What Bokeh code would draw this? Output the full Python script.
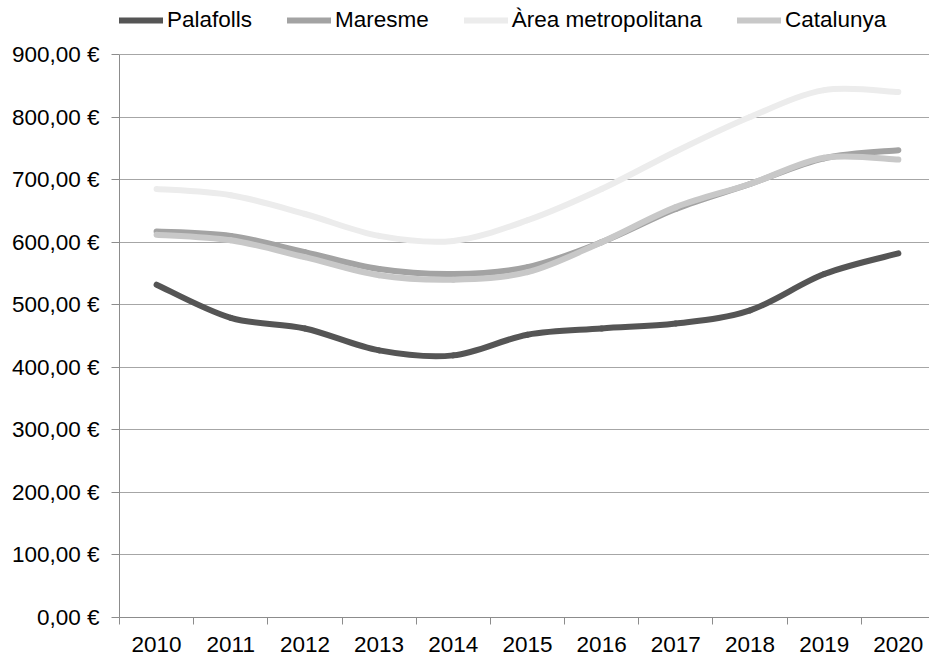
from bokeh.plotting import figure
from bokeh.models import FixedTicker, Legend, LegendItem, Range1d, ColumnDataSource
from bokeh.embed import file_html
from bokeh.resources import INLINE

years = [2010, 2011, 2012, 2013, 2014, 2015, 2016, 2017, 2018, 2019, 2020]
palafolls = [532, 479, 462, 427, 419, 452, 462, 470, 491, 549, 582]
maresme = [617, 610, 584, 557, 549, 560, 600, 653, 693, 734, 747]
area_metro = [685, 675, 645, 610, 602, 635, 685, 745, 800, 843, 840]
catalunya = [612, 603, 576, 547, 540, 552, 600, 656, 693, 735, 732]

series_names = ["Palafolls", "Maresme", "Àrea metropolitana", "Catalunya"]
series_values = [palafolls, maresme, area_metro, catalunya]
series_colors = ["#555555", "#a3a3a3", "#ececec", "#c8c8c8"]
y_ticks = [0, 100, 200, 300, 400, 500, 600, 700, 800, 900]

FONT = "Liberation Sans"


def bezier_source(xs, ys):
    n = len(xs)
    d = dict(x0=[], y0=[], x1=[], y1=[], cx0=[], cy0=[], cx1=[], cy1=[])
    for i in range(n - 1):
        im = max(i - 1, 0)
        ip2 = min(i + 2, n - 1)
        d["x0"].append(xs[i]); d["y0"].append(ys[i])
        d["x1"].append(xs[i + 1]); d["y1"].append(ys[i + 1])
        d["cx0"].append(xs[i] + (xs[i + 1] - xs[im]) / 6)
        d["cy0"].append(ys[i] + (ys[i + 1] - ys[im]) / 6)
        d["cx1"].append(xs[i + 1] - (xs[ip2] - xs[i]) / 6)
        d["cy1"].append(ys[i + 1] - (ys[ip2] - ys[i]) / 6)
    return ColumnDataSource(d)


# frame: x from 119 to 929 px, y from 0 (top) to 617 px; 900 sits at 54 px
p = figure(width=929, height=662, output_backend="svg", toolbar_location=None,
           x_range=Range1d(2009.5, 2020.42), y_range=Range1d(0, 986.3),
           min_border_left=119, min_border_right=0, min_border_top=0,
           min_border_bottom=45)
p.outline_line_color = None
p.background_fill_color = "white"
p.border_fill_color = "white"

items = []
for name, vals, col in zip(series_names, series_values, series_colors):
    r = p.bezier(x0="x0", y0="y0", x1="x1", y1="y1", cx0="cx0", cy0="cy0",
                 cx1="cx1", cy1="cy1", source=bezier_source(years, vals),
                 line_color=col, line_width=6, line_cap="round")
    items.append(LegendItem(label=name, renderers=[r]))

legend = Legend(items=items, orientation="horizontal", location=(0, 584),
                glyph_width=44, glyph_height=20, label_standoff=4, spacing=35,
                padding=0, margin=0, border_line_color=None,
                background_fill_alpha=0, label_text_font=FONT,
                label_text_font_size="22.5px", label_text_color="#000000",
                label_height=20)
p.add_layout(legend, "center")

# x axis
boundaries = [y - 0.5 for y in years]
p.xaxis.ticker = FixedTicker(ticks=years, minor_ticks=boundaries)
p.xaxis.major_tick_out = 0
p.xaxis.major_tick_in = 0
p.xaxis.minor_tick_out = 7
p.xaxis.minor_tick_in = 0
p.xaxis.minor_tick_line_color = "#8c8c8c"
p.xaxis.axis_line_color = "#8c8c8c"
p.xaxis.major_label_text_font = FONT
p.xaxis.major_label_text_font_size = "22.5px"
p.xaxis.major_label_text_color = "#000000"
p.xaxis.major_label_standoff = 12
p.xgrid.grid_line_color = None

# y axis
p.yaxis.bounds = (0, 900)
p.yaxis.ticker = FixedTicker(ticks=y_ticks)
p.yaxis.major_label_overrides = {v: f"{v:.2f}".replace(".", ",") + " €" for v in y_ticks}
p.yaxis.major_tick_out = 8
p.yaxis.major_tick_in = 0
p.yaxis.minor_tick_line_color = None
p.yaxis.major_tick_line_color = "#8c8c8c"
p.yaxis.axis_line_color = "#8c8c8c"
p.yaxis.major_label_text_font = FONT
p.yaxis.major_label_text_font_size = "22.5px"
p.yaxis.major_label_text_color = "#000000"
p.yaxis.major_label_standoff = 12
p.ygrid.grid_line_color = "#a6a6a6"
p.ygrid.grid_line_width = 1

open("out.html", "w").write(file_html(p, INLINE))
